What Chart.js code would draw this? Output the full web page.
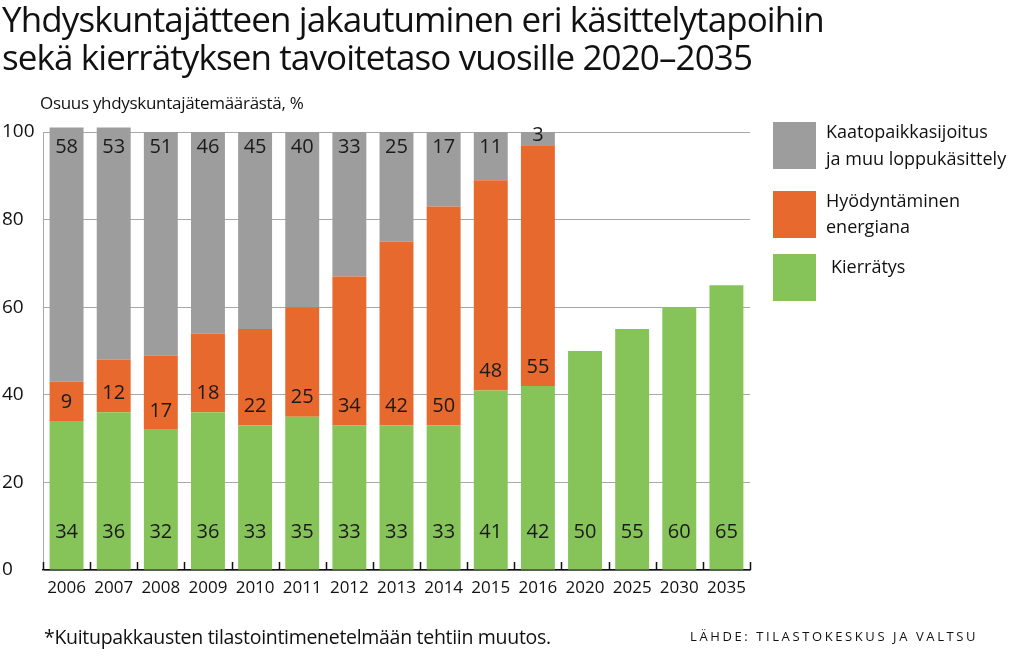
<!DOCTYPE html>
<html>
<head>
<meta charset="utf-8">
<script src="https://cdn.jsdelivr.net/npm/chart.js@4"></script>
<style>
  html, body { margin: 0; padding: 0; background: #fff; }
  #wrap { position: relative; width: 1024px; height: 661px; font-family: "Open Sans", sans-serif; color: #111; }
  #title { position: absolute; left: 2px; top: 0px; font-size: 35px; line-height: 38px; letter-spacing: -0.9px; white-space: nowrap; }
  #ylab { position: absolute; left: 40px; top: 91px; font-size: 17px; letter-spacing: -0.3px; }
  #note { position: absolute; left: 44px; top: 623px; font-size: 19.5px; letter-spacing: -0.3px; }
  #src { position: absolute; left: 690px; top: 627px; font-size: 13px; letter-spacing: 2.6px; }
  canvas { position: absolute; left: 0; top: 0; }
</style>
</head>
<body>
<div id="wrap">
  <canvas id="c" width="1024" height="661"></canvas>
  <div id="title">Yhdyskuntajätteen jakautuminen eri käsittelytapoihin<br>sekä kierrätyksen tavoitetaso vuosille 2020–2035</div>
  <div id="ylab">Osuus yhdyskuntajätemäärästä, %</div>
  <div id="note">*Kuitupakkausten tilastointimenetelmään tehtiin muutos.</div>
  <div id="src">LÄHDE: TILASTOKESKUS JA VALTSU</div>
</div>
<script>
const years = ["2006", "2007", "2008", "2009", "2010", "2011", "2012", "2013", "2014", "2015", "2016", "2020", "2025", "2030", "2035"];
const kierratys = [34, 36, 32, 36, 33, 35, 33, 33, 33, 41, 42, 50, 55, 60, 65];
const energia = [9, 12, 17, 18, 22, 25, 34, 42, 50, 48, 55, null, null, null, null];
const kaatopaikka = [58, 53, 51, 46, 45, 40, 33, 25, 17, 11, 3, null, null, null, null];
const seriesNames = [
  ["Kierrätys"],
  ["Hyödyntäminen", "energiana"],
  ["Kaatopaikkasijoitus", "ja muu loppukäsittely"],
];
const yTicks = [0, 20, 40, 60, 80, 100];

const GREEN = "#86c45a";
const ORANGE = "#e8692d";
const GRAY = "#9d9d9d";
const FONT = '"Open Sans", sans-serif';

// numbers inside the bars + tick marks on the x axis
const barLabels = {
  id: "barLabels",
  afterDatasetsDraw(chart) {
    const { ctx, scales: { x, y }, chartArea } = chart;
    ctx.save();
    ctx.font = "20px " + FONT;
    ctx.fillStyle = "#1a1a1a";
    ctx.textAlign = "center";
    ctx.textBaseline = "middle";
    const y100 = y.getPixelForValue(100);
    chart.data.datasets.forEach((ds, di) => {
      const meta = chart.getDatasetMeta(di);
      meta.data.forEach((bar, i) => {
        const v = ds.data[i];
        if (v == null) return;
        let ty;
        if (di === 0) ty = bar.base - 37;
        else if (di === 1) ty = bar.base - 19;
        else ty = Math.min(y100 + 15, (bar.y + bar.base) / 2 - 3);
        ctx.fillText(String(v), bar.x, ty);
      });
    });

    // small upward ticks between categories
    const step = x.getPixelForValue(1) - x.getPixelForValue(0);
    ctx.strokeStyle = "#111";
    ctx.lineWidth = 1.5;
    ctx.beginPath();
    for (let i = 0; i <= years.length; i++) {
      const px = Math.round(x.getPixelForValue(i) - step / 2) + 0.5;
      ctx.moveTo(px, chartArea.bottom);
      ctx.lineTo(px, chartArea.bottom - 8);
    }
    ctx.stroke();
    ctx.restore();
  },
};

// legend on the right
const sideLegend = {
  id: "sideLegend",
  afterDraw(chart) {
    const { ctx } = chart;
    const boxes = [
      { ds: 2, top: 122, lines: [133, 160] },
      { ds: 1, top: 191, lines: [202, 228] },
      { ds: 0, top: 254, lines: [268] },
    ];
    ctx.save();
    ctx.font = "18px " + FONT;
    ctx.textBaseline = "middle";
    ctx.textAlign = "left";
    boxes.forEach((b) => {
      const ds = chart.data.datasets[b.ds];
      ctx.fillStyle = ds.backgroundColor;
      ctx.fillRect(773, b.top, 43, 47);
      ctx.fillStyle = "#111";
      seriesNames[b.ds].forEach((t, k) => {
        ctx.fillText(t, b.ds === 0 ? 831 : 826, b.lines[k]);
      });
    });
    ctx.restore();
  },
};

new Chart(document.getElementById("c"), {
  type: "bar",
  data: {
    labels: years,
    datasets: [
      { label: seriesNames[0].join(" "), data: kierratys, backgroundColor: GREEN },
      { label: seriesNames[1].join(" "), data: energia, backgroundColor: ORANGE },
      { label: seriesNames[2].join(" "), data: kaatopaikka, backgroundColor: GRAY },
    ].map((d) => ({ ...d, categoryPercentage: 1, barPercentage: 0.72, clip: false })),
  },
  options: {
    responsive: false,
    animation: false,
    layout: { padding: { left: 2, top: 132, right: 274, bottom: 0 } },
    plugins: { legend: { display: false }, tooltip: { enabled: false } },
    scales: {
      x: {
        stacked: true,
        afterFit: (s) => { s.height = 91; },
        grid: { display: false, drawTicks: false },
        border: { display: true, color: "#111", width: 1.5 },
        ticks: { color: "#111", font: { family: FONT, size: 17 }, padding: 8, maxRotation: 0, autoSkip: false },
      },
      y: {
        stacked: true,
        min: 0,
        max: 100,
        afterFit: (s) => { s.width = 41; },
        afterBuildTicks: (s) => { s.ticks = yTicks.map((v) => ({ value: v })); },
        grid: { color: "#a8a8a8", lineWidth: 1, drawTicks: false },
        border: { display: true, color: "#a8a8a8", width: 1 },
        ticks: { color: "#111", crossAlign: "far", font: { family: FONT, size: 19 }, padding: 0 },
      },
    },
  },
  plugins: [barLabels, sideLegend],
});
</script>
</body>
</html>
